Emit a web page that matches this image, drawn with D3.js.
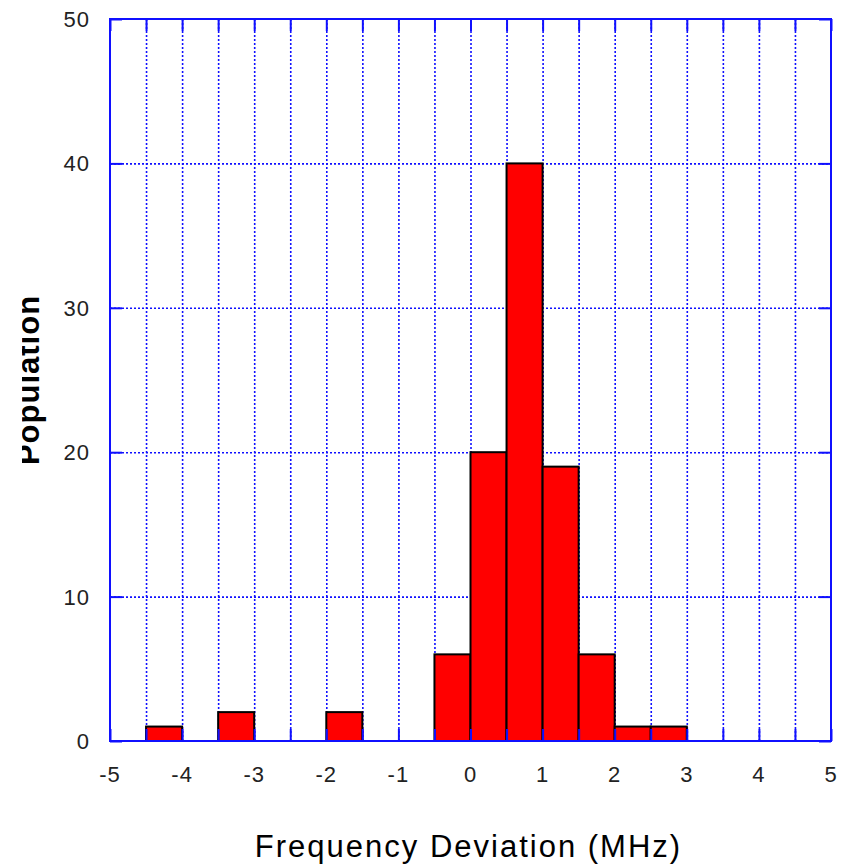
<!DOCTYPE html>
<meta charset="utf-8">
<style>
  body { margin: 0; background: #fff; }
  text { font-family: "Liberation Sans", Arial, sans-serif; }
</style>
<body>
<div id="chart"></div>

<script src="https://d3js.org/d3.v7.min.js"></script>
<script>

// histogram: lower edge of each 0.5 MHz bin and its count
var binStart = [-4.5, -4, -3.5, -3, -2.5, -2, -1.5, -1, -0.5, 0, 0.5, 1, 1.5, 2, 2.5];
var counts   = [1, 0, 2, 0, 0, 2, 0, 0, 6, 20, 40, 19, 6, 1, 1];
var binWidth = 0.5;

// tick values
var xLabels = [-5, -4, -3, -2, -1, 0, 1, 2, 3, 4, 5];
var xMinor  = [-5, -4.5, -4, -3.5, -3, -2.5, -2, -1.5, -1, -0.5, 0, 0.5, 1, 1.5, 2, 2.5, 3, 3.5, 4, 4.5, 5];
var yLabels = [0, 10, 20, 30, 40, 50];

var margin = {top: 19, right: 17, bottom: 124, left: 110},
    width = 848 - margin.left - margin.right,
    height = 865 - margin.top - margin.bottom;

var blue = "#1010ff";

var svg = d3.select("#chart")
  .append("svg")
    .attr("width", 848)
    .attr("height", 865);

var g = svg.append("g")
    .attr("transform", "translate(" + margin.left + "," + margin.top + ")");

var x = d3.scaleLinear().domain([-5, 5]).range([0, width]);
var y = d3.scaleLinear().domain([0, 50]).range([height, 0]);

// dotted grid
g.append("g")
  .call(d3.axisBottom(x).tickValues(xMinor.slice(1, -1)).tickSize(height).tickFormat(""))
  .call(function(a) { a.select(".domain").remove(); })
  .selectAll("line")
    .attr("stroke", blue)
    .attr("stroke-width", 1.6)
    .attr("stroke-dasharray", "2,2");

g.append("g")
  .call(d3.axisLeft(y).tickValues(yLabels.slice(1, -1)).tickSize(-width).tickFormat(""))
  .call(function(a) { a.select(".domain").remove(); })
  .selectAll("line")
    .attr("stroke", blue)
    .attr("stroke-width", 1.6)
    .attr("stroke-dasharray", "2,2");

// bars
var bins = binStart.map(function(s, i) { return {x0: s, x1: s + binWidth, n: counts[i]}; })
  .filter(function(d) { return d.n > 0; });

g.selectAll(".bar")
  .data(bins)
  .enter()
  .append("rect")
    .attr("class", "bar")
    .attr("x", function(d) { return x(d.x0); })
    .attr("width", function(d) { return x(d.x1) - x(d.x0); })
    .attr("y", function(d) { return y(d.n); })
    .attr("height", function(d) { return y(0) - y(d.n); })
    .attr("fill", "#ff0000")
    .attr("stroke", "#000")
    .attr("stroke-width", 2);

// inner ticks on all four sides
function styleTicks(a) {
  a.select(".domain").remove();
  a.selectAll("line").attr("stroke", blue).attr("stroke-width", 2);
}
g.append("g")
  .attr("transform", "translate(0," + height + ")")
  .call(d3.axisBottom(x).tickValues(xMinor).tickSize(-12).tickFormat(""))
  .call(styleTicks);
g.append("g")
  .call(d3.axisTop(x).tickValues(xMinor).tickSize(-12).tickFormat(""))
  .call(styleTicks);
g.append("g")
  .call(d3.axisLeft(y).tickValues(yLabels).tickSize(-12).tickFormat(""))
  .call(styleTicks);
g.append("g")
  .attr("transform", "translate(" + width + ",0)")
  .call(d3.axisRight(y).tickValues(yLabels).tickSize(-12).tickFormat(""))
  .call(styleTicks);

// frame
g.append("rect")
  .attr("width", width)
  .attr("height", height)
  .attr("fill", "none")
  .attr("stroke", blue)
  .attr("stroke-width", 2);

// tick labels
g.selectAll(".xlab")
  .data(xLabels)
  .enter()
  .append("text")
    .attr("x", function(d) { return x(d); })
    .attr("y", height + 41)
    .attr("text-anchor", "middle")
    .attr("font-size", "22px")
    .attr("letter-spacing", "1px")
    .attr("fill", "#222")
    .text(function(d) { return d; });

g.selectAll(".ylab")
  .data(yLabels)
  .enter()
  .append("text")
    .attr("x", -20)
    .attr("y", function(d) { return y(d); })
    .attr("dy", "0.36em")
    .attr("text-anchor", "end")
    .attr("font-size", "22px")
    .attr("letter-spacing", "1px")
    .attr("fill", "#222")
    .text(function(d) { return d; });

// axis titles
svg.append("text")
  .attr("x", margin.left + width / 2 - 2)
  .attr("y", 857)
  .attr("text-anchor", "middle")
  .attr("font-size", "31px")
  .attr("letter-spacing", "2px")
  .attr("fill", "#000")
  .text("Frequency Deviation (MHz)");

// the y title is cut off on its left side in the original
svg.append("clipPath")
  .attr("id", "yclip")
  .append("rect")
    .attr("x", 22).attr("y", 0)
    .attr("width", 60).attr("height", 865);

svg.append("g")
  .attr("clip-path", "url(#yclip)")
  .append("text")
    .attr("transform", "translate(38.5," + (margin.top + height / 2) + ") rotate(-90)")
    .attr("text-anchor", "middle")
    .attr("font-size", "31px")
    .attr("font-weight", "bold")
    .attr("letter-spacing", "1px")
    .attr("fill", "#000")
    .text("Population");

</script>
</body>
